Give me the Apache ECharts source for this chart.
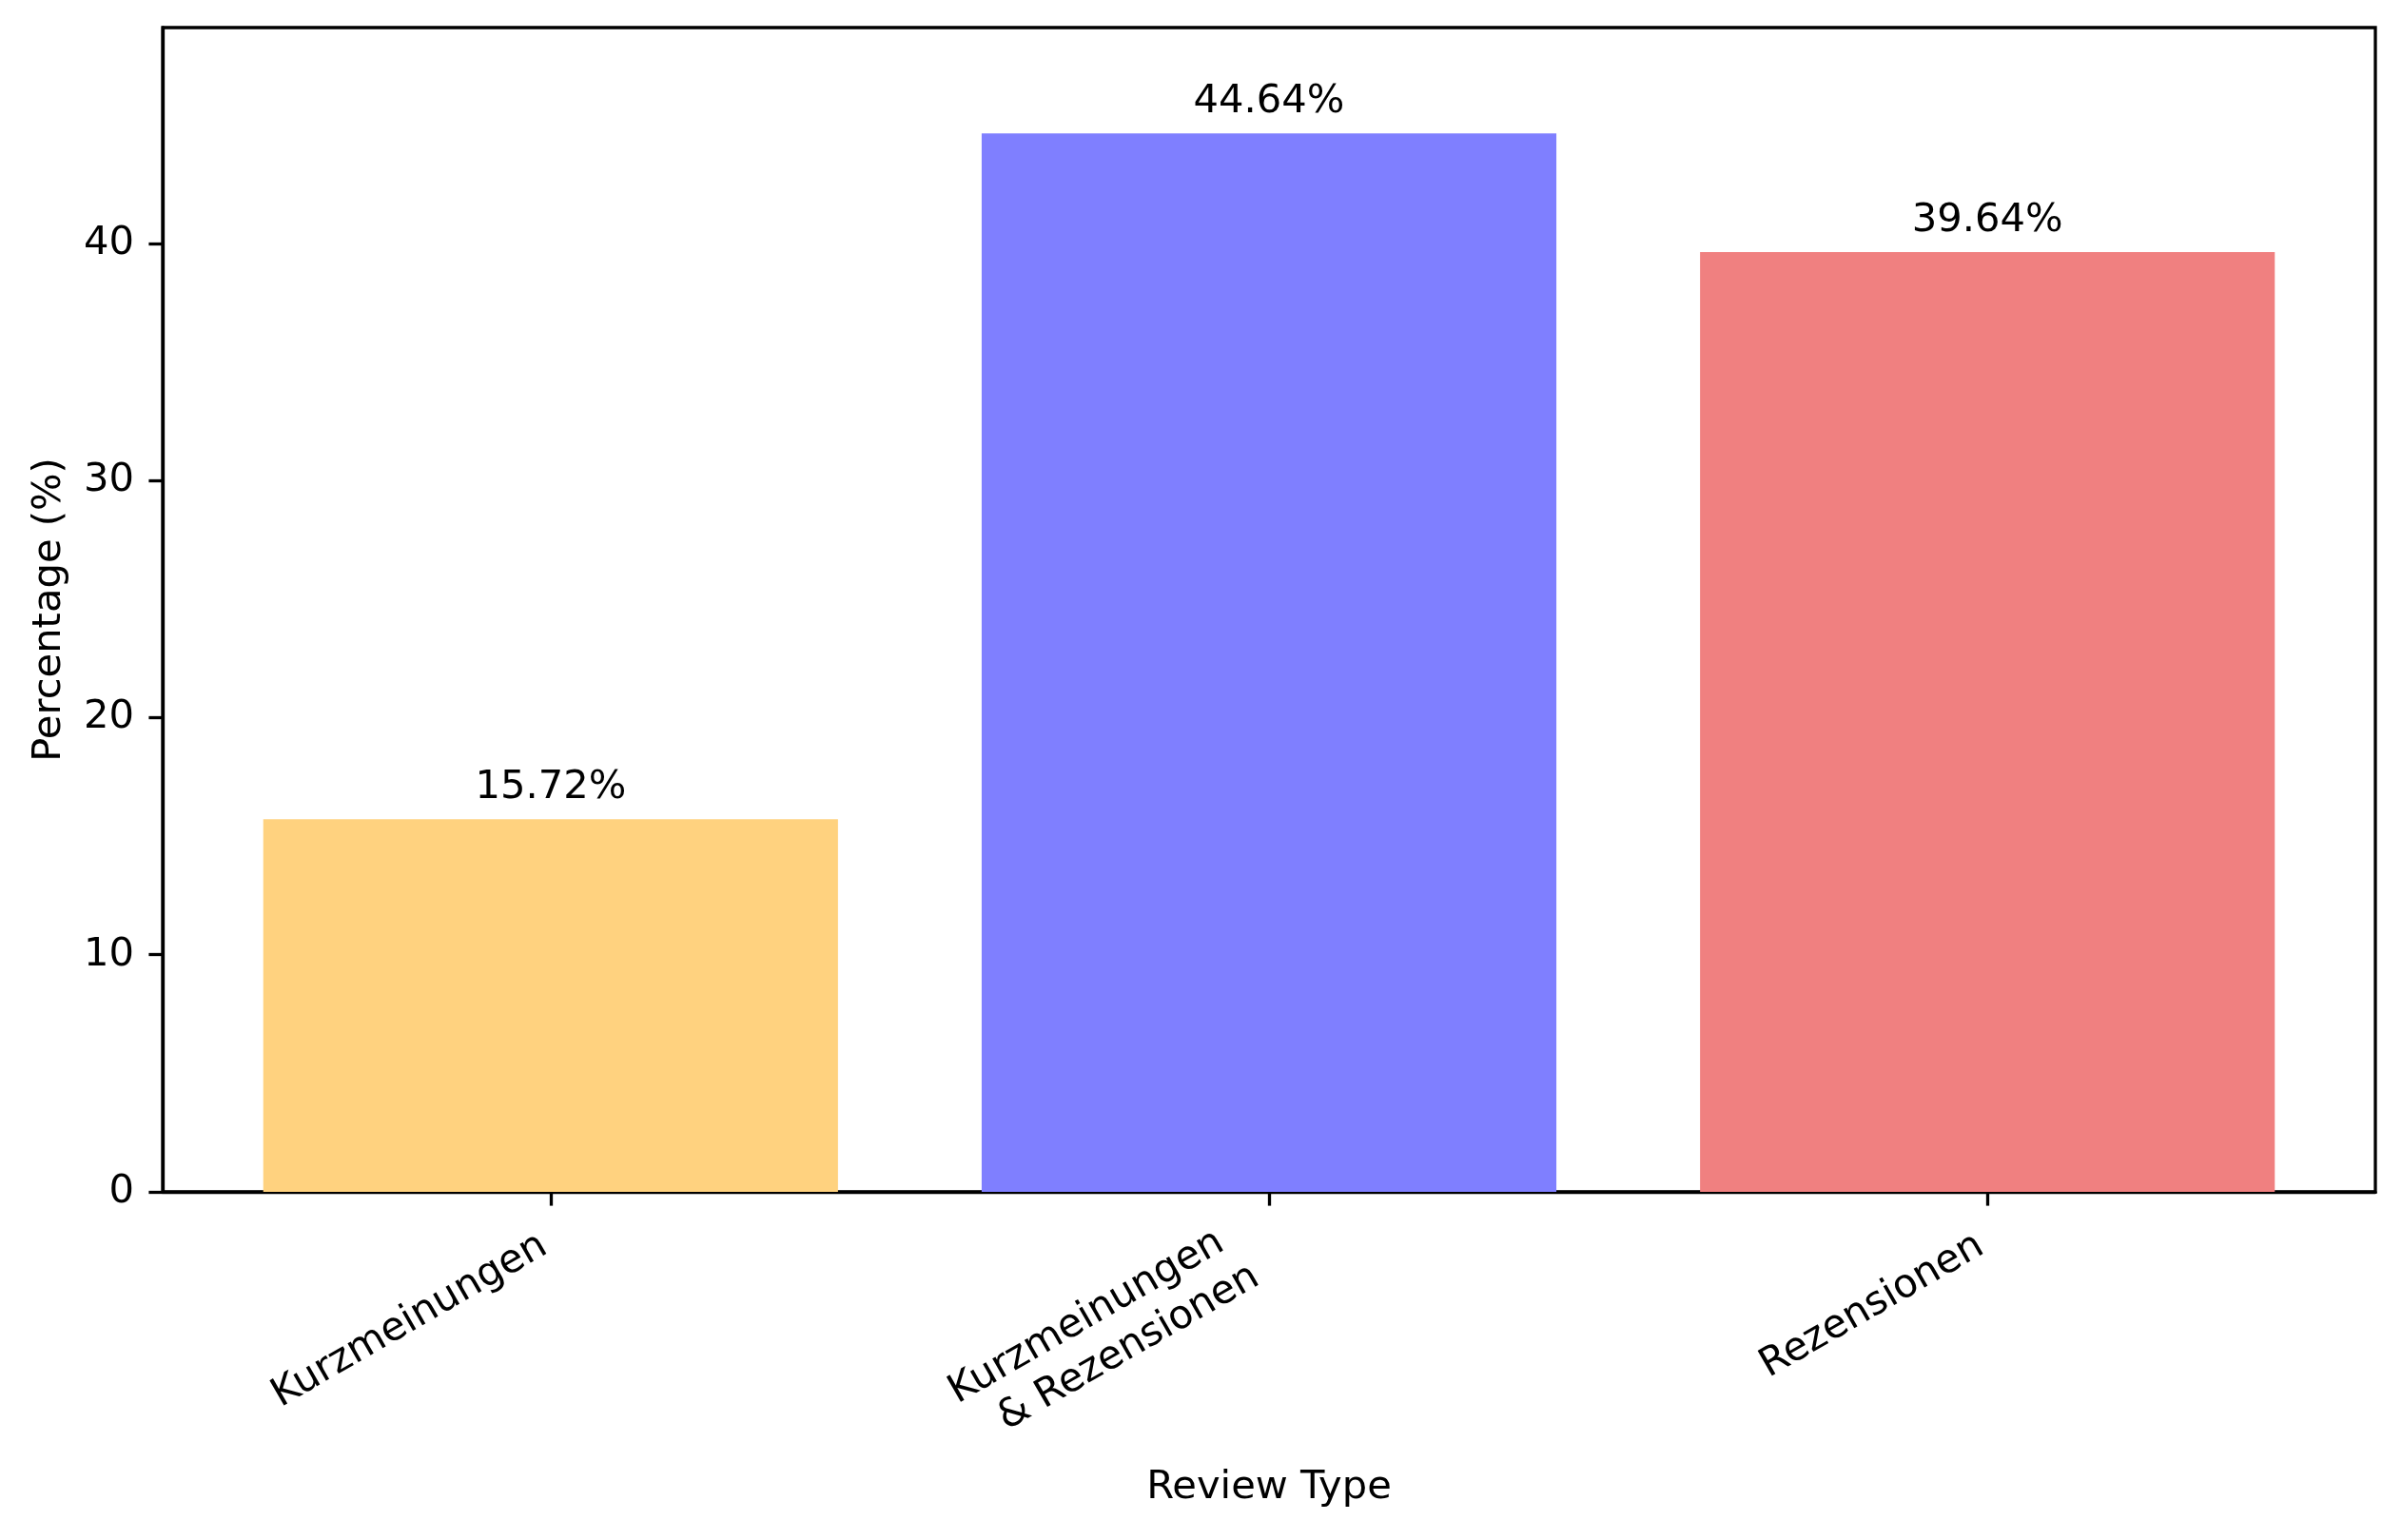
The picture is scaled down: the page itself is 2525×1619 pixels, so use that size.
<!DOCTYPE html>
<html>
<head>
<meta charset="utf-8">
<script src="https://cdn.jsdelivr.net/npm/echarts@6/dist/echarts.min.js"></script>
<style>
html,body{margin:0;padding:0;background:#fff;}
#chart{width:2525px;height:1619px;}
</style>
</head>
<body>
<div id="chart"></div>
<script>
// ---- data ----
const categories = ['Kurzmeinungen', 'Kurzmeinungen\n& Rezensionen', 'Rezensionen'];
const percentages = [15.72, 44.64, 39.64];
const barColors = ['#FFD27F', '#7F7FFF', '#F08080'];
const yTicks = [0, 10, 20, 30, 40];
const xTicks = [0, 1, 2];

// ---- layout ----
const W = 2525, H = 1619;
const gridLeft = 171, gridRight = 28, gridTop = 29, gridBottom = 366;
const xMin = -0.54, xMax = 2.54;
const plotW = W - gridLeft - gridRight;
const barWidthPx = 0.8 * plotW / (xMax - xMin);
const FS = 41.67;
const FONT = 'DejaVu Sans';
const LW = 3.3;
const TICK = 14.6;

const chart = echarts.init(document.getElementById('chart'), null, {renderer: 'canvas'});
const option = {
  backgroundColor: '#fff',
  animation: false,
  textStyle: {fontFamily: FONT},
  grid: {
    left: gridLeft, right: gridRight, top: gridTop, bottom: gridBottom,
    show: true, borderColor: '#000', borderWidth: LW, backgroundColor: 'transparent'
  },
  xAxis: {
    type: 'value',
    min: xMin, max: xMax,
    name: 'Review Type',
    nameLocation: 'middle',
    nameGap: 290,
    nameTextStyle: {fontSize: FS, color: '#000', fontFamily: FONT},
    axisLine: {show: true, onZero: false, lineStyle: {color: '#000', width: LW}},
    axisTick: {show: true, length: TICK, lineStyle: {color: '#000', width: LW}, customValues: xTicks},
    axisLabel: {
      customValues: xTicks,
      rotate: 30,
      margin: 50,
      fontSize: FS, color: '#000', fontFamily: FONT,
      lineHeight: 50,
      formatter: v => {
        const c = categories[Math.round(v)] || '';
        if (c.indexOf('\n') >= 0) {
          const parts = c.split('\n');
          return '{a|' + parts[0] + '}\n{b|' + parts[1] + '}';
        }
        return '{s|' + c + '}';
      },
      rich: {
        s: {fontSize: FS, color: '#000', fontFamily: FONT, lineHeight: 50, padding: [0, 8, 0, 0]},
        a: {fontSize: FS, color: '#000', fontFamily: FONT, lineHeight: 50, padding: [0, 44, 0, 0]},
        b: {fontSize: FS, color: '#000', fontFamily: FONT, lineHeight: 50, padding: [0, 30, 0, 0]}
      }
    },
    splitLine: {show: false}
  },
  yAxis: {
    type: 'value',
    min: 0, max: Math.max(...percentages) * 1.1,
    name: 'Percentage (%)',
    nameLocation: 'middle',
    nameGap: 98,
    nameRotate: 90,
    nameTextStyle: {fontSize: FS, color: '#000', fontFamily: FONT},
    axisLine: {show: true, onZero: false, lineStyle: {color: '#000', width: LW}},
    axisTick: {show: true, length: TICK, lineStyle: {color: '#000', width: LW}, customValues: yTicks},
    axisLabel: {customValues: yTicks, margin: 30, fontSize: FS, color: '#000', fontFamily: FONT},
    splitLine: {show: false}
  },
  series: [{
    type: 'bar',
    barWidth: barWidthPx,
    data: percentages.map((v, i) => ({value: [i, v], itemStyle: {color: barColors[i]}})),
    label: {
      show: true,
      position: 'top',
      distance: 12,
      fontSize: FS,
      color: '#000',
      fontFamily: FONT,
      formatter: p => p.value[1].toFixed(2) + '%'
    }
  }]
};
chart.setOption(option);
</script>
</body>
</html>
